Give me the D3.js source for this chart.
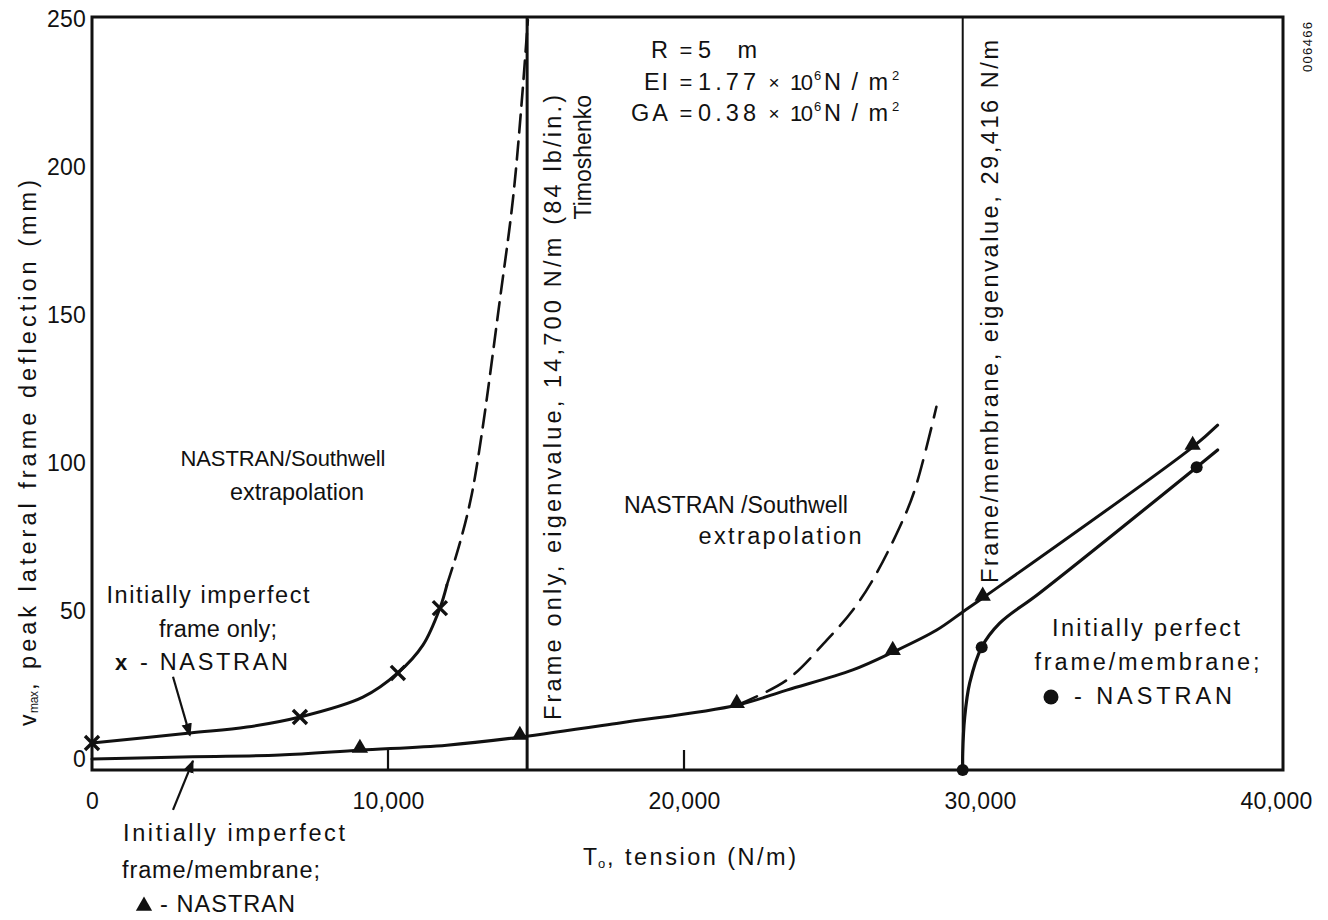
<!DOCTYPE html>
<html>
<head>
<meta charset="utf-8">
<script src="https://cdn.jsdelivr.net/npm/d3@7"></script>
<style>
  html, body { margin: 0; padding: 0; background: #fff; }
  svg { display: block; font-family: "Liberation Sans", Arial, Helvetica, sans-serif; }
  text { fill: #111; }
</style>
</head>
<body>
<svg id="chart" width="1328" height="920"></svg>
<script>
// ---------------- data ----------------
const xTicks = [0, 10000, 20000, 30000, 40000];
const xTickLabels = ["0", "10,000", "20,000", "30,000", "40,000"];
const xInnerTicks = [10000, 20000];
const yTicks = [0, 50, 100, 150, 200, 250];
const yTickLabels = ["0", "50", "100", "150", "200", "250"];

const eigenFrameOnly = 14700;   // N/m
const eigenMembrane = 29416;    // N/m

// Initially imperfect frame only (solid curve, x = NASTRAN)
const frameOnlyT = [0, 3310, 5235, 7025, 9152, 10334, 11179, 11753, 11989];
const frameOnlyV = [5.4, 8.8, 10.8, 14.2, 20.9, 29.1, 38.5, 51.0, 58.8];
const frameOnlyNastranT = [0, 7025, 10334, 11753];
const frameOnlyNastranV = [5.4, 14.2, 29.1, 51.0];
// NASTRAN/Southwell extrapolation (dashed)
const frameOnlyExtrapT = [11989, 12400, 12800, 13171, 13779, 14218, 14522, 14725];
const frameOnlyExtrapV = [58.8, 72, 88, 110.1, 155.1, 188.9, 222.6, 249.7];

// Initially imperfect frame/membrane (solid curve, triangles = NASTRAN)
const membraneT = [0, 3411, 6349, 9051, 11989, 14455, 17832, 21783, 23472, 25701, 27052, 28538, 29416, 30091, 37184, 38028];
const membraneV = [0, 0.8, 1.35, 3.0, 4.7, 7.4, 12.2, 18.2, 23.3, 30.1, 36.1, 43.6, 49.7, 54.4, 105.4, 112.8];
const membraneNastranT = [9051, 14455, 21783, 27052, 30091, 37184];
const membraneNastranV = [3.0, 7.4, 18.2, 36.1, 54.4, 105.4];
// NASTRAN/Southwell extrapolation (dashed)
const membraneExtrapT = [21783, 23472, 24823, 25701, 26376, 27288, 27794, 28527];
const membraneExtrapV = [18.2, 26.7, 40.2, 50.3, 60.5, 78.4, 90.9, 119.0];

// Initially perfect frame/membrane (solid curve, dots = NASTRAN)
const perfectT = [29416, 29416, 29483, 29652, 30057, 30666, 32016, 37319, 38028];
const perfectV = [-3.7, 2.0, 14.2, 25.7, 37.8, 45.9, 56.1, 98.6, 104.4];
const perfectNastranT = [29416, 30057, 37319];
const perfectNastranV = [-3.7, 37.8, 98.6];

// ---------------- chart ----------------
const svg = d3.select("#chart");
const FONT = "\"Liberation Sans\", Arial, Helvetica, sans-serif";
const x = d3.scaleLinear().domain([0, 40236]).range([92, 1283]);
const y = d3.scaleLinear().domain([-3.7, 250.7]).range([770, 17]);
const zip = (a, b) => a.map((d, i) => [d, b[i]]);

const line = d3.line().x(d => x(d[0])).y(d => y(d[1])).curve(d3.curveCatmullRom.alpha(0.5));

// frame
svg.append("rect")
  .attr("x", x.range()[0]).attr("y", y.range()[1])
  .attr("width", x.range()[1] - x.range()[0])
  .attr("height", y.range()[0] - y.range()[1])
  .attr("fill", "none").attr("stroke", "#111").attr("stroke-width", 3);

// inner ticks on the x axis
svg.selectAll("line.itick").data(xInnerTicks).enter().append("line")
  .attr("class", "itick")
  .attr("x1", d => x(d)).attr("x2", d => x(d))
  .attr("y1", y.range()[0]).attr("y2", y.range()[0] - 20)
  .attr("stroke", "#111").attr("stroke-width", 2.2);

// x axis labels
const xAxis = svg.append("g").attr("transform", `translate(0,${y.range()[0]})`)
  .call(d3.axisBottom(x).tickValues(xTicks).tickSize(0).tickPadding(23)
    .tickFormat((d, i) => xTickLabels[i]));
xAxis.select(".domain").remove();
xAxis.selectAll("text").attr("font-size", 23).attr("font-family", FONT).attr("fill", "#111")
  .attr("letter-spacing", 0.3);

// y axis labels
const yAxis = svg.append("g").attr("transform", `translate(${x.range()[0]},0)`)
  .call(d3.axisLeft(y).tickValues(yTicks).tickSize(0).tickPadding(6)
    .tickFormat((d, i) => yTickLabels[i]));
yAxis.select(".domain").remove();
yAxis.selectAll("text").attr("font-size", 23).attr("font-family", FONT).attr("fill", "#111")
  .attr("letter-spacing", 0.2);

// eigenvalue lines
svg.append("line")
  .attr("x1", x(eigenFrameOnly)).attr("x2", x(eigenFrameOnly))
  .attr("y1", y.range()[0]).attr("y2", y.range()[1])
  .attr("stroke", "#111").attr("stroke-width", 3);
svg.append("line")
  .attr("x1", x(eigenMembrane)).attr("x2", x(eigenMembrane))
  .attr("y1", y.range()[0]).attr("y2", y.range()[1])
  .attr("stroke", "#111").attr("stroke-width", 2);

// curves
const curves = [
  { t: frameOnlyT, v: frameOnlyV, dash: null, w: 3 },
  { t: frameOnlyExtrapT, v: frameOnlyExtrapV, dash: "18,9", w: 2.6 },
  { t: membraneT, v: membraneV, dash: null, w: 3 },
  { t: membraneExtrapT, v: membraneExtrapV, dash: "22,11", w: 2.6 },
  { t: perfectT, v: perfectV, dash: null, w: 3.2 }
];
svg.selectAll("path.curve").data(curves).enter().append("path")
  .attr("class", "curve")
  .attr("d", d => line(zip(d.t, d.v)))
  .attr("fill", "none").attr("stroke", "#111")
  .attr("stroke-width", d => d.w)
  .attr("stroke-dasharray", d => d.dash)
  .attr("stroke-linecap", "round");

// markers
const xSym = d3.symbol(d3.symbolTimes, 130)();
const triSym = d3.symbol(d3.symbolTriangle, 115)();
svg.selectAll("path.xm").data(zip(frameOnlyNastranT, frameOnlyNastranV)).enter().append("path")
  .attr("class", "xm")
  .attr("transform", d => `translate(${x(d[0])},${y(d[1])})`)
  .attr("d", xSym)
  .attr("fill", "none").attr("stroke", "#111").attr("stroke-width", 3.4);

svg.selectAll("path.tri").data(zip(membraneNastranT, membraneNastranV)).enter().append("path")
  .attr("class", "tri")
  .attr("transform", d => `translate(${x(d[0])},${y(d[1]) - 2})`)
  .attr("d", triSym)
  .attr("fill", "#111");

svg.selectAll("circle.dot").data(zip(perfectNastranT, perfectNastranV)).enter().append("circle")
  .attr("class", "dot")
  .attr("cx", d => x(d[0])).attr("cy", d => y(d[1]))
  .attr("r", 6).attr("fill", "#111");

// arrows
const defs = svg.append("defs");
defs.append("marker").attr("id", "ah").attr("viewBox", "0 0 10 10")
  .attr("refX", 9).attr("refY", 5).attr("markerWidth", 6).attr("markerHeight", 6)
  .attr("markerUnits", "strokeWidth").attr("orient", "auto")
  .append("path").attr("d", "M0,1 L10,5 L0,9 Z").attr("fill", "#111");
const arrows = [
  { from: [2736, 27.8], to: [3310, 8.0] },
  { from: [2736, -17.2], to: [3411, -0.6] }
];
svg.selectAll("line.arrow").data(arrows).enter().append("line")
  .attr("class", "arrow")
  .attr("x1", d => x(d.from[0])).attr("y1", d => y(d.from[1]))
  .attr("x2", d => x(d.to[0])).attr("y2", d => y(d.to[1]))
  .attr("stroke", "#111").attr("stroke-width", 2.2).attr("marker-end", "url(#ah)");

// ---------------- text annotations ----------------
// font grows (within limits) toward the target width, remaining gap goes to tracking
function fitText(t, width, base, minS, maxS) {
  t.attr("font-size", base);
  const L = t.node().getComputedTextLength();
  const s = Math.max(minS, Math.min(maxS, base * width / L));
  t.attr("font-size", s).attr("textLength", width).attr("lengthAdjust", "spacing");
}
function label(px, py, str, opt = {}) {
  const t = (opt.parent || svg).append("text")
    .attr("font-size", opt.size || 21)
    .attr("text-anchor", opt.anchor || "middle")
    .attr("dy", "0.35em");
  if (opt.rotate) t.attr("transform", `translate(${px},${py}) rotate(${opt.rotate})`);
  else t.attr("x", px).attr("y", py);
  if (opt.bold) t.attr("font-weight", "bold");
  t.text(str);
  if (opt.width) fitText(t, opt.width, opt.size || 21, opt.min || 22, opt.max || 23.5);
  return t;
}

// axis titles
label(583, 857, "T", { anchor: "start", size: 23 });
label(598, 863, "o", { anchor: "start", size: 13 });
label(607, 857, ",  tension (N/m)", { anchor: "start", width: 189 });

const yl = svg.append("g").attr("transform", "translate(28,726) rotate(-90)");
label(0, 0, "v", { parent: yl, anchor: "start", size: 23 });
label(13, 6, "max", { parent: yl, anchor: "start", size: 13, width: 22, min: 12, max: 14 });
label(36, 0, ",  peak lateral frame deflection  (mm)", { parent: yl, anchor: "start", width: 510 });

// parameters box
label(668, 50, "R", { anchor: "end", size: 23.5 });
label(668, 82, "EI", { anchor: "end", width: 24 });
label(668, 113, "GA", { anchor: "end", width: 37 });
[50, 82, 113].forEach(py => label(686, py, "=", { size: 22 }));
label(698, 50, "5 m", { anchor: "start", width: 59 });
label(698, 82, "1.77", { anchor: "start", width: 58 });
label(698, 113, "0.38", { anchor: "start", width: 58 });
[82, 113].forEach(py => {
  label(774, py, "\u00d7", { size: 19 });
  label(790, py, "10", { anchor: "start", width: 23 });
  label(814, py - 7, "6", { anchor: "start", size: 13 });
  label(824, py, "N/m", { anchor: "start", width: 64 });
  label(892, py - 7, "2", { anchor: "start", size: 13 });
});

// eigenvalue labels (rotated)
label(553, 95, "Frame only, eigenvalue, 14,700 N/m (84 lb/in.)", { rotate: -90, anchor: "end", width: 625 });
label(583, 95, "Timoshenko", { rotate: -90, anchor: "end", size: 23 });
label(990, 40, "Frame/membrane, eigenvalue, 29,416 N/m", { rotate: -90, anchor: "end", width: 543 });

// extrapolation labels
label(283, 458, "NASTRAN/Southwell", { width: 205 });
label(297, 492, "extrapolation", { width: 134 });
label(736, 505, "NASTRAN /Southwell", { width: 224 });
label(780, 536, "extrapolation", { width: 163 });

// series labels
label(208, 595, "Initially imperfect", { width: 203 });
label(218, 629, "frame only;", { width: 118 });
label(121, 662, "x", { bold: true, size: 22 });
label(140, 662, "-  NASTRAN", { anchor: "start", width: 148 });

label(234, 833, "Initially imperfect", { width: 222 });
label(221, 870, "frame/membrane;", { width: 198 });
svg.append("path").attr("transform", "translate(144,906)").attr("d", triSym).attr("fill", "#111");
label(160, 904, "-  NASTRAN", { anchor: "start", width: 135 });

label(1146, 628, "Initially perfect", { width: 188 });
label(1147, 662, "frame/membrane;", { width: 225 });
svg.append("circle").attr("cx", 1051).attr("cy", 697).attr("r", 7.5).attr("fill", "#111");
label(1074, 696, "-  NASTRAN", { anchor: "start", width: 158 });

// figure number
label(1307, 22, "006466", { rotate: -90, anchor: "end", size: 12, width: 50, min: 11, max: 13 });
</script>
</body>
</html>
